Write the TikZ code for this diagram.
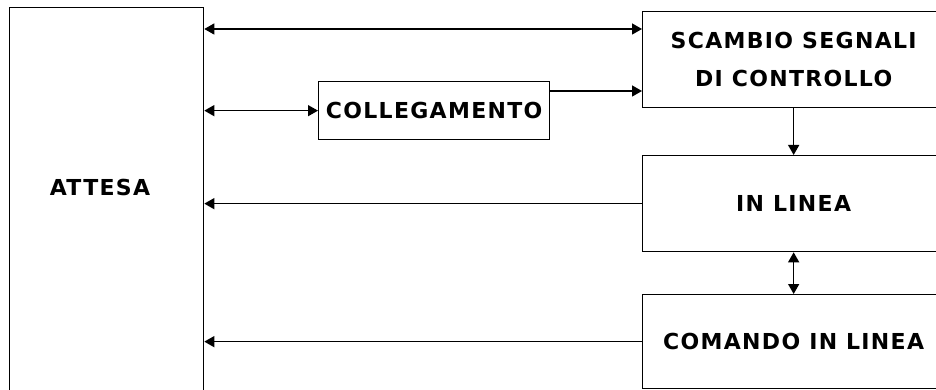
\documentclass[tikz,border=0pt]{standalone}
\usepackage{fontspec}
\usepackage{tikz}
\usetikzlibrary{arrows.meta, positioning, calc}
\newfontfamily\blockfont[LetterSpace=6]{DejaVu Sans}

\tikzset{
  blk/.style={draw, rectangle, line width=1.3pt, inner sep=0pt},
  lbl/.style={font=\blockfont\bfseries\fontsize{22}{38}\selectfont, align=center},
  link/.style={line width=1.3pt},
}

\begin{document}
\begin{tikzpicture}[x=1pt, y=-1pt, >={Triangle[length=10pt,width=11pt]}]
        \useasboundingbox (0,0) rectangle (936,390);

        % Attesa (bottom runs off the page)
        \node[blk, minimum width=194pt, minimum height=420pt, anchor=north west] (attesa) at (9,7) {};
        \node[lbl] (attesalbl) at (100,187) {ATTESA};

        % Collegamento
        \node[blk, lbl, minimum width=231pt, minimum height=58pt, anchor=north west] (colleg) at (318,81) {COLLEGAMENTO};

        % Right column
        \node[blk, lbl, minimum width=302pt, minimum height=96pt, anchor=north west] (scambio) at (642,11) {SCAMBIO SEGNALI\\DI CONTROLLO};
        \node[blk, lbl, minimum width=302pt, minimum height=96pt, anchor=north west] (inlinea) at (642,155) {IN LINEA};
        \node[blk, lbl, minimum width=302pt, minimum height=94pt, anchor=north west] (comando) at (642,294) {COMANDO IN LINEA};

        % Connecting arrows
        \coordinate (toprow) at (0,29);
        \coordinate (midrow) at (0,91);
        \draw[link, <->] (attesa.east |- toprow) -- (scambio.west |- toprow);
        \draw[link, <->] (attesa.east |- colleg.west) -- (colleg.west);
        \draw[link, ->] (colleg.east |- midrow) -- (scambio.west |- midrow);
        \draw[link, ->] (scambio.south) -- (inlinea.north);
        \draw[link, <->] (inlinea.south) -- (comando.north);
        \draw[link, ->] (inlinea.west) -- (attesa.east |- inlinea.west);
        \draw[link, ->] (comando.west) -- (attesa.east |- comando.west);
    \end{tikzpicture}
\end{document}
